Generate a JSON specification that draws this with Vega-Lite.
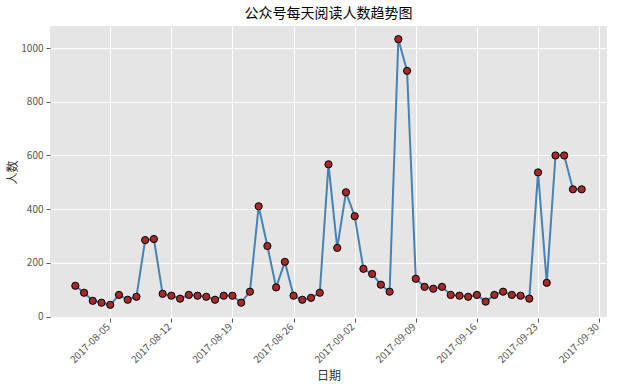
{
  "$schema": "https://vega.github.io/schema/vega-lite/v6.json",
  "width": 557,
  "height": 292,
  "autosize": {"type": "none"},
  "padding": {"left": 50, "top": 26, "right": 10, "bottom": 71},
  "background": "white",
  "title": {"text": "公众号每天阅读人数趋势图", "font": "Noto Sans CJK SC", "fontSize": 14, "fontWeight": "normal", "color": "#000000", "frame": "group", "anchor": "middle", "offset": 5},
  "config": {
    "view": {"fill": "#E5E5E5", "stroke": null},
    "axis": {"domain": false, "grid": true, "gridColor": "#FFFFFF", "gridWidth": 1, "tickColor": "#555555", "tickSize": 4, "labelColor": "#555555", "labelFont": "Noto Sans CJK SC", "labelFontSize": 10, "titleFont": "Noto Sans CJK SC", "titleFontSize": 12, "titleFontWeight": "normal", "titleColor": "#333333"}
  },
  "data": {"values": [
    {"date": "2017-08-01", "n": 115}, {"date": "2017-08-02", "n": 89}, {"date": "2017-08-03", "n": 59},
    {"date": "2017-08-04", "n": 52}, {"date": "2017-08-05", "n": 44}, {"date": "2017-08-06", "n": 81},
    {"date": "2017-08-07", "n": 63}, {"date": "2017-08-08", "n": 74}, {"date": "2017-08-09", "n": 285},
    {"date": "2017-08-10", "n": 289}, {"date": "2017-08-11", "n": 85}, {"date": "2017-08-12", "n": 78},
    {"date": "2017-08-13", "n": 67}, {"date": "2017-08-14", "n": 81}, {"date": "2017-08-15", "n": 78},
    {"date": "2017-08-16", "n": 74}, {"date": "2017-08-17", "n": 63}, {"date": "2017-08-18", "n": 78},
    {"date": "2017-08-19", "n": 78}, {"date": "2017-08-20", "n": 52}, {"date": "2017-08-21", "n": 93},
    {"date": "2017-08-22", "n": 411}, {"date": "2017-08-23", "n": 263}, {"date": "2017-08-24", "n": 109},
    {"date": "2017-08-25", "n": 204}, {"date": "2017-08-26", "n": 78}, {"date": "2017-08-27", "n": 63},
    {"date": "2017-08-28", "n": 70}, {"date": "2017-08-29", "n": 89}, {"date": "2017-08-30", "n": 567},
    {"date": "2017-08-31", "n": 256}, {"date": "2017-09-01", "n": 463}, {"date": "2017-09-02", "n": 374},
    {"date": "2017-09-03", "n": 178}, {"date": "2017-09-04", "n": 159}, {"date": "2017-09-05", "n": 119},
    {"date": "2017-09-06", "n": 93}, {"date": "2017-09-07", "n": 1033}, {"date": "2017-09-08", "n": 915},
    {"date": "2017-09-09", "n": 141}, {"date": "2017-09-10", "n": 111}, {"date": "2017-09-11", "n": 104},
    {"date": "2017-09-12", "n": 111}, {"date": "2017-09-13", "n": 81}, {"date": "2017-09-14", "n": 78},
    {"date": "2017-09-15", "n": 74}, {"date": "2017-09-16", "n": 81}, {"date": "2017-09-17", "n": 56},
    {"date": "2017-09-18", "n": 81}, {"date": "2017-09-19", "n": 93}, {"date": "2017-09-20", "n": 81},
    {"date": "2017-09-21", "n": 78}, {"date": "2017-09-22", "n": 67}, {"date": "2017-09-23", "n": 537},
    {"date": "2017-09-24", "n": 126}, {"date": "2017-09-25", "n": 600}, {"date": "2017-09-26", "n": 600},
    {"date": "2017-09-27", "n": 474}, {"date": "2017-09-28", "n": 474}
  ]},
  "encoding": {
    "x": {
      "field": "date", "type": "temporal",
      "scale": {"type": "utc", "domain": [
        {"year": 2017, "month": 7, "date": 29, "hours": 2, "minutes": 24, "utc": true},
        {"year": 2017, "month": 9, "date": 30, "hours": 21, "minutes": 36, "utc": true}
      ]},
      "axis": {
        "title": "日期",
        "labelExpr": "utcFormat(datum.value, '%Y-%m-%d')",
        "values": [
          {"year": 2017, "month": 8, "date": 5, "utc": true},
          {"year": 2017, "month": 8, "date": 12, "utc": true},
          {"year": 2017, "month": 8, "date": 19, "utc": true},
          {"year": 2017, "month": 8, "date": 26, "utc": true},
          {"year": 2017, "month": 9, "date": 2, "utc": true},
          {"year": 2017, "month": 9, "date": 9, "utc": true},
          {"year": 2017, "month": 9, "date": 16, "utc": true},
          {"year": 2017, "month": 9, "date": 23, "utc": true},
          {"year": 2017, "month": 9, "date": 30, "utc": true}
        ],
        "labelAngle": -45,
        "labelAlign": "right",
        "labelBaseline": "alphabetic",
        "labelPadding": 5,
        "labelDx": -4,
        "labelOverlap": false,
        "labelBound": false,
        "titlePadding": 6
      }
    },
    "y": {
      "field": "n", "type": "quantitative",
      "scale": {"domain": [-5, 1082], "nice": false, "zero": false},
      "axis": {"title": "人数", "format": "d", "values": [0, 200, 400, 600, 800, 1000], "labelPadding": 3, "titlePadding": 1}
    }
  },
  "layer": [
    {"mark": {"type": "line", "color": "#4682B4", "strokeWidth": 2}},
    {"mark": {"type": "point", "filled": true, "fill": "#A52A2A", "stroke": "#000000", "strokeWidth": 1, "size": 52, "opacity": 1}}
  ]
}
